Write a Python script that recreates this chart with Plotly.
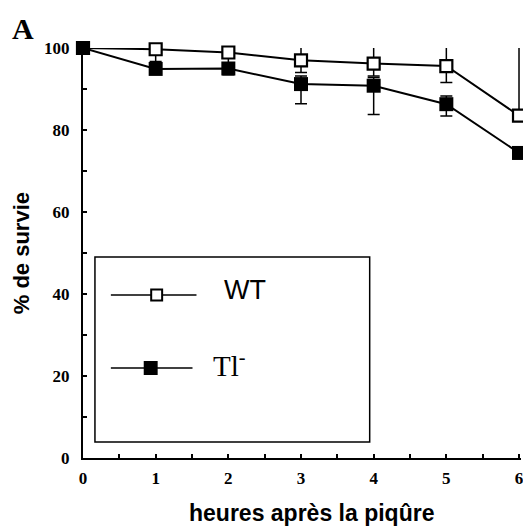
import plotly.graph_objects as go

# ---- data ----
hours = [0, 1, 2, 3, 4, 5, 6]
wt_survival = [100, 99.7, 98.9, 97.0, 96.2, 95.6, 83.5]
wt_err_up = [0, 0.5, 1.2, 3.7, 4.0, 5.3, 18.0]
wt_err_down = [0, 3.0, 2.5, 3.0, 3.0, 4.0, 0]
tl_survival = [100, 94.9, 95.0, 91.2, 90.8, 86.3, 74.4]
tl_err_up = [0, 0, 0, 2.0, 2.0, 2.0, 0]
tl_err_down = [0, 1.2, 1.5, 4.8, 7.0, 2.9, 0]
x_ticks = [0, 1, 2, 3, 4, 5, 6]
y_ticks = [0, 20, 40, 60, 80, 100]
series_names = ["WT", "Tl<sup>-</sup>"]
x_title = "heures après la piqûre"
y_title = "% de survie"
panel_label = "A"

W, H = 523, 529
ML, MR, MT, MB = 83, 0, 48, 71
PW, PH = W - ML - MR, H - MT - MB


def px(x):
    return (x - ML) / PW


def py(y):
    return (H - MB - y) / PH


fig = go.Figure()
fig.add_trace(go.Scatter(
    x=hours, y=wt_survival, mode="lines+markers", name=series_names[0],
    line=dict(color="black", width=2),
    marker=dict(symbol="square", size=12, color="white", line=dict(color="black", width=2.2)),
    error_y=dict(type="data", array=wt_err_up, arrayminus=wt_err_down, color="black",
                 thickness=1.5, width=6, symmetric=False),
    cliponaxis=False, showlegend=False,
))
fig.add_trace(go.Scatter(
    x=hours, y=tl_survival, mode="lines+markers", name=series_names[1],
    line=dict(color="black", width=2),
    marker=dict(symbol="square", size=14, color="black", line=dict(color="black", width=0)),
    error_y=dict(type="data", array=tl_err_up, arrayminus=tl_err_down, color="black",
                 thickness=1.5, width=6, symmetric=False),
    cliponaxis=False, showlegend=False,
))

tickfont = dict(family="Liberation Serif", size=17, color="black", weight="bold")

fig.update_xaxes(
    range=[0, PW / 73.0], tickvals=x_ticks, ticktext=[str(v) for v in x_ticks],
    showline=True, linecolor="black", linewidth=2, showgrid=False, zeroline=False,
    ticks="inside", ticklen=4, tickwidth=1.5, tickcolor="black",
    minor=dict(dtick=0.5, tick0=0, ticks="inside", ticklen=4, tickwidth=1.5, tickcolor="black"),
    tickfont=tickfont, ticklabeloverflow="allow", ticklabelstandoff=4,
)
fig.update_yaxes(
    range=[0, 100], tickvals=y_ticks, ticktext=[str(v) for v in y_ticks],
    showline=True, linecolor="black", linewidth=2, showgrid=False, zeroline=False,
    ticks="inside", ticklen=4, tickwidth=1.5, tickcolor="black",
    minor=dict(dtick=10, tick0=0, ticks="inside", ticklen=4, tickwidth=1.5, tickcolor="black"),
    tickfont=tickfont, ticklabelstandoff=8, ticklabeloverflow="allow",
)

shapes = []
# legend box
shapes.append(dict(type="rect", xref="paper", yref="paper",
                   x0=px(95), x1=px(371), y0=py(442), y1=py(257),
                   line=dict(color="black", width=1.5), fillcolor="rgba(0,0,0,0)"))
# legend sample lines
shapes.append(dict(type="line", xref="paper", yref="paper", x0=px(111), x1=px(197),
                   y0=py(295), y1=py(295), line=dict(color="black", width=1.5)))
shapes.append(dict(type="line", xref="paper", yref="paper", x0=px(111), x1=px(193),
                   y0=py(368), y1=py(368), line=dict(color="black", width=1.5)))
# legend sample markers
shapes.append(dict(type="rect", xref="paper", yref="paper", x0=px(151.5), x1=px(162.5),
                   y0=py(300.5), y1=py(289.5), line=dict(color="black", width=2), fillcolor="white"))
shapes.append(dict(type="rect", xref="paper", yref="paper", x0=px(144), x1=px(158),
                   y0=py(375), y1=py(361), line=dict(color="black", width=0), fillcolor="black"))

annotations = [
    dict(text=panel_label, xref="paper", yref="paper", x=px(10), y=py(10), xanchor="left", yanchor="top",
         showarrow=False, font=dict(family="Liberation Serif", size=30, color="black", weight="bold")),
    dict(text=series_names[0], xref="paper", yref="paper", x=px(223), y=py(290),
         xanchor="left", yanchor="middle", showarrow=False,
         font=dict(family="Liberation Sans", size=27, color="black")),
    dict(text=series_names[1], xref="paper", yref="paper", x=px(212), y=py(364),
         xanchor="left", yanchor="middle", showarrow=False,
         font=dict(family="Liberation Serif", size=29, color="black")),
    dict(text=x_title, xref="paper", yref="paper", x=px(313), y=py(513),
         xanchor="center", yanchor="middle", showarrow=False,
         font=dict(family="Liberation Sans", size=23, color="black", weight="bold")),
    dict(text=y_title, xref="paper", yref="paper", x=px(21), y=py(253), textangle=-90,
         xanchor="center", yanchor="middle", showarrow=False,
         font=dict(family="Liberation Sans", size=22, color="black", weight="bold")),
]

fig.update_layout(
    width=W, height=H, margin=dict(l=ML, r=MR, t=MT, b=MB),
    paper_bgcolor="white", plot_bgcolor="white",
    shapes=shapes, annotations=annotations,
)
fig.write_html("out.html")
